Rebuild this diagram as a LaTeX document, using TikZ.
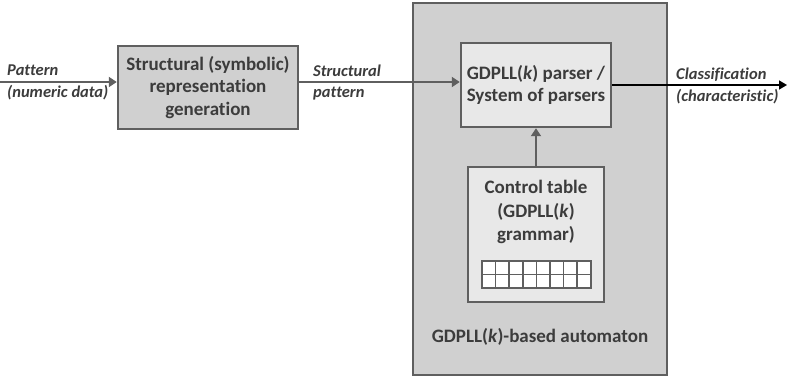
\documentclass[tikz,border=0pt]{standalone}
\usepackage{fontspec}
\setmainfont{Carlito}[Ligatures=NoCommon]
\usetikzlibrary{arrows.meta}
\definecolor{edgegray}{RGB}{95, 95, 95}
\definecolor{boxgray}{RGB}{208, 208, 208}
\definecolor{innergray}{RGB}{232, 232, 232}
\definecolor{textgray}{RGB}{60, 60, 60}

\tikzset{
  block/.style={draw=edgegray, line width=2.5pt, fill=boxgray, text=textgray,
    font=\fontsize{19}{22.5}\selectfont\bfseries, align=center, inner sep=0pt},
  innerblock/.style={block, fill=innergray},
  sig/.style={text=textgray, font=\fontsize{16.5}{21.5}\selectfont\bfseries\itshape,
    align=left, anchor=west, inner sep=0pt},
  arr/.style={draw=edgegray, line width=2pt, -{Triangle[length=8pt,width=10pt]}},
  outarr/.style={draw=black, line width=1.6pt, -{Triangle[length=8pt,width=9pt]}},
}

\begin{document}
\begin{tikzpicture}[x=1pt, y=-1pt]
  \useasboundingbox (0,0) rectangle (787,377);

  % automaton frame
  \node[block, minimum width=254pt, minimum height=372pt] (automaton) at (540,189) {};
  \node[text=textgray, font=\fontsize{19}{22.5}\selectfont\bfseries] (autolabel) at (540,337) {GDPLL(\textit{k})-based automaton};

  % blocks
  \node[block, minimum width=180pt, minimum height=83pt] (gen) at (208,87.5)
    {Structural (symbolic)\\representation\\generation};
  \node[innerblock, minimum width=150pt, minimum height=84pt] (parser) at (536,85)
    {GDPLL(\textit{k}) parser /\\System of parsers};
  \node[innerblock, minimum width=136pt, minimum height=135pt] (ctrl) at (536,234.5) {};
  \node[text=textgray, font=\fontsize{19}{23.5}\selectfont\bfseries, align=center] (ctrltext) at (536,212)
    {Control table\\(GDPLL(\textit{k})\\grammar)};

  % table cells
  \foreach \i in {0,...,7}
    \foreach \j in {0,1}
      \filldraw [draw=edgegray, line width=1.5pt, fill=white]
        (482+13.6*\i, 261+13.5*\j) rectangle (482+13.6*\i+13.6, 261+13.5*\j+13.5);

  % signals
  \coordinate (in) at (0,82);
  \coordinate (out) at (787,85);
  \draw[arr] (in) -- (in -| gen.west);
  \draw[arr] (gen.east |- in) -- (in -| parser.west);
  \draw[outarr] (parser.east |- out) -- (out);
  \draw[arr] (ctrl.north) -- (parser.south);

  \node[sig] (patlabel) at (7,82.5) {Pattern\\(numeric data)};
  \node[sig] (structlabel) at (313,82.5) {Structural\\pattern};
  \node[sig] (classlabel) at (676,86) {Classification\\(characteristic)};
\end{tikzpicture}
\end{document}
